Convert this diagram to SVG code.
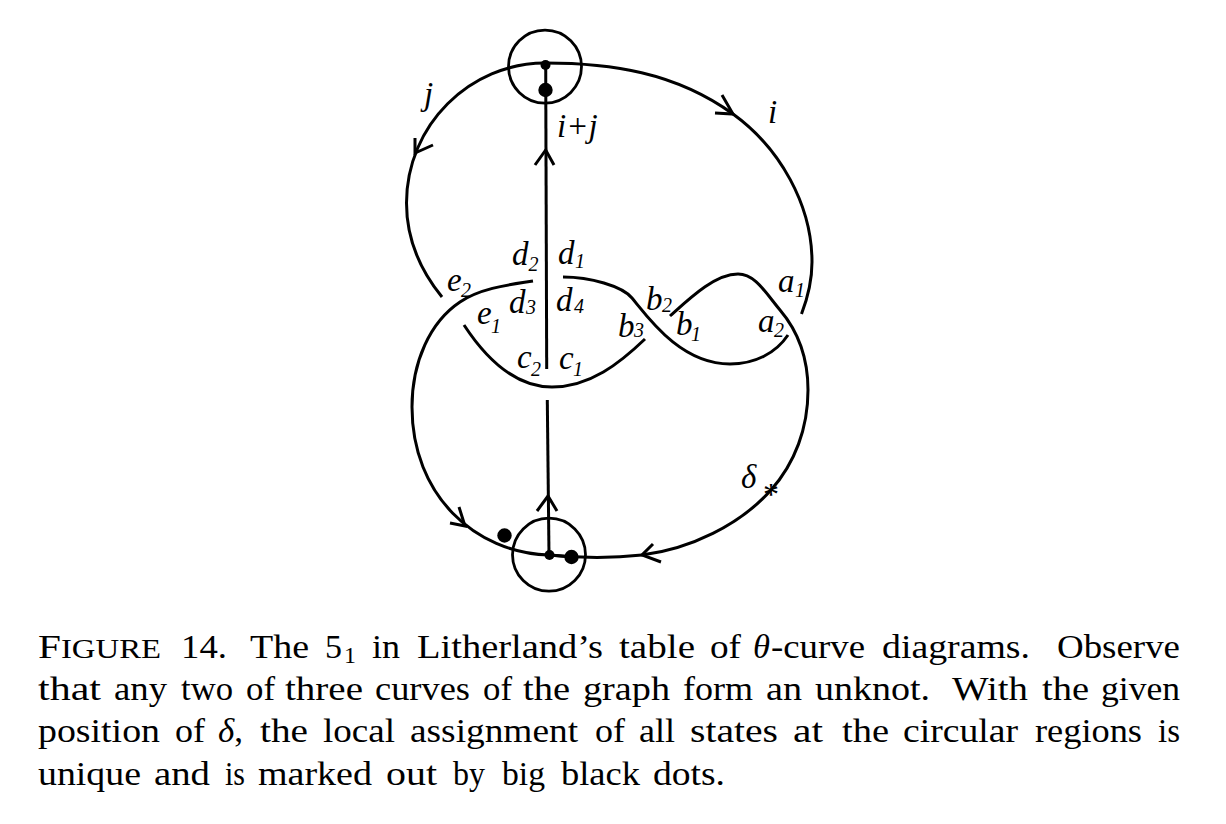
<svg xmlns="http://www.w3.org/2000/svg" width="1226" height="824" viewBox="0 0 1226 824">
<style>
.c{fill:none;stroke:#000;stroke-width:3;stroke-linecap:butt;stroke-linejoin:miter}
.r{fill:none;stroke:#000;stroke-width:2.8}
.d{fill:#000}
.l{font-family:"Liberation Serif",serif;font-style:italic;font-size:33px;fill:#000}
.s{font-family:"Liberation Serif",serif;font-style:italic;font-size:20px;fill:#000}
.t{font-family:"Liberation Serif",serif;font-size:34px;fill:#000}
.i{font-style:italic}
</style>
<rect width="1226" height="824" fill="#fff"/>
<g id="connectors">
<path class="c" d="M545,63 C470,63 406.5,125 406.5,203 C406.5,240 420,270 442,297"/>
<path class="c" d="M545,63 C610,63 675,72 733,114 C780,148 812,205 812,262 C812,280 808,297 801.5,314"/>
<path class="c" d="M533,281 C515,284 482,287 460,302 C430,322 412,362 412,407 C412,495 475,553 549,555 C580,558 615,558 642,555 C690,549 740,525 771,490 C795,463 808,428 808,390 C808,355 797,330 780,310 C765,292 755,274 738,274 C715,274 690,298 670,316"/>
<path class="c" d="M563,277 C590,277 622,286 632,298 C647,316 680,364 730,364 C755,364 776,353 788,335"/>
<path class="c" d="M464,325 C485,357 515,387 552,387 C590,387 620,363 645,339"/>
<path class="c" d="M545.7,65 L546.7,369"/>
<path class="c" d="M547.3,400 L549,555"/>
<path class="c" d="M549,555 L571,557"/>
<path class="c" d="M722,95 L733,114 L715,113"/>
<path class="c" d="M415,138 L415,153 L433,145"/>
<path class="c" d="M535,165 L545.7,150 L554,165"/>
<path class="c" d="M537,511 L548,496 L557,511"/>
<path class="c" d="M459,507 L465,526 L450,523"/>
<path class="c" d="M653,544 L642,555 L661,562"/>
</g>
<g id="node-top">
<circle class="r" cx="545" cy="66.6" r="36.5"/>
<circle class="d" cx="545.5" cy="65" r="5"/>
<circle class="d" cx="545.5" cy="90" r="7.2"/>
</g>
<g id="node-bottom">
<circle class="r" cx="549" cy="554.7" r="36.5"/>
<circle class="d" cx="549.5" cy="555" r="5"/>
<circle class="d" cx="571.5" cy="557" r="7.2"/>
</g>
<g id="node-state-dot">
<circle class="d" cx="504.5" cy="535.5" r="7.2"/>
</g>
<g id="labels">
<text class="l" x="424" y="105">j</text>
<text class="l" x="768" y="123">i</text>
<text class="l" x="557" y="137">i+j</text>
<text class="l" x="512" y="265">d</text><text class="s" x="528.5" y="271">2</text>
<text class="l" x="558" y="264">d</text><text class="s" x="575" y="268">1</text>
<text class="l" x="447" y="291">e</text><text class="s" x="461" y="297">2</text>
<text class="l" x="509" y="313">d</text><text class="s" x="526" y="314">3</text>
<text class="l" x="556" y="311">d</text><text class="s" x="574" y="313">4</text>
<text class="l" x="477" y="324">e</text><text class="s" x="491" y="333">1</text>
<text class="l" x="517" y="368">c</text><text class="s" x="531" y="376">2</text>
<text class="l" x="559" y="369">c</text><text class="s" x="573" y="376">1</text>
<text class="l" x="646" y="310">b</text><text class="s" x="662" y="312">2</text>
<text class="l" x="676" y="335">b</text><text class="s" x="691" y="341">1</text>
<text class="l" x="618" y="337">b</text><text class="s" x="634" y="337">3</text>
<text class="l" x="778" y="292">a</text><text class="s" x="795" y="297">1</text>
<text class="l" x="758" y="332">a</text><text class="s" x="774" y="337">2</text>
<text class="l" x="741" y="488">δ</text>
<text class="l" x="763" y="505" style="font-style:normal;font-size:32px">*</text>
</g>
<g id="caption">
<text class="t" x="38" y="657.5" textLength="123" lengthAdjust="spacingAndGlyphs">F<tspan font-size="27">IGURE</tspan></text>
<text class="t" x="181" y="657.5" textLength="46" lengthAdjust="spacingAndGlyphs">14.</text>
<text class="t" x="250" y="657.5" textLength="59" lengthAdjust="spacingAndGlyphs">The</text>
<text class="t" x="325" y="657.5" textLength="17" lengthAdjust="spacingAndGlyphs">5</text>
<text class="t" x="344" y="663" style="font-size:24px">1</text>
<text class="t" x="372" y="657.5" textLength="28" lengthAdjust="spacingAndGlyphs">in</text>
<text class="t" x="417" y="657.5" textLength="186" lengthAdjust="spacingAndGlyphs">Litherland’s</text>
<text class="t" x="619" y="657.5" textLength="76" lengthAdjust="spacingAndGlyphs">table</text>
<text class="t" x="710" y="657.5" textLength="31" lengthAdjust="spacingAndGlyphs">of</text>
<text class="t i" x="753" y="657.5" textLength="17" lengthAdjust="spacingAndGlyphs">θ</text>
<text class="t" x="771" y="657.5" textLength="94" lengthAdjust="spacingAndGlyphs">-curve</text>
<text class="t" x="882" y="657.5" textLength="148" lengthAdjust="spacingAndGlyphs">diagrams.</text>
<text class="t" x="1057" y="657.5" textLength="123" lengthAdjust="spacingAndGlyphs">Observe</text>

<text class="t" x="38" y="700" textLength="63" lengthAdjust="spacingAndGlyphs">that</text>
<text class="t" x="114" y="700" textLength="53" lengthAdjust="spacingAndGlyphs">any</text>
<text class="t" x="181" y="700" textLength="52" lengthAdjust="spacingAndGlyphs">two</text>
<text class="t" x="246" y="700" textLength="29" lengthAdjust="spacingAndGlyphs">of</text>
<text class="t" x="285" y="700" textLength="78" lengthAdjust="spacingAndGlyphs">three</text>
<text class="t" x="375" y="700" textLength="95" lengthAdjust="spacingAndGlyphs">curves</text>
<text class="t" x="483" y="700" textLength="29" lengthAdjust="spacingAndGlyphs">of</text>
<text class="t" x="523" y="700" textLength="47" lengthAdjust="spacingAndGlyphs">the</text>
<text class="t" x="583" y="700" textLength="87" lengthAdjust="spacingAndGlyphs">graph</text>
<text class="t" x="683" y="700" textLength="70" lengthAdjust="spacingAndGlyphs">form</text>
<text class="t" x="766" y="700" textLength="36" lengthAdjust="spacingAndGlyphs">an</text>
<text class="t" x="815" y="700" textLength="115" lengthAdjust="spacingAndGlyphs">unknot.</text>
<text class="t" x="952" y="700" textLength="76" lengthAdjust="spacingAndGlyphs">With</text>
<text class="t" x="1042" y="700" textLength="47" lengthAdjust="spacingAndGlyphs">the</text>
<text class="t" x="1101" y="700" textLength="79" lengthAdjust="spacingAndGlyphs">given</text>

<text class="t" x="38" y="742.3" textLength="122" lengthAdjust="spacingAndGlyphs">position</text>
<text class="t" x="175" y="742.3" textLength="30" lengthAdjust="spacingAndGlyphs">of</text>
<text class="t" x="218" y="742.3" textLength="25" lengthAdjust="spacingAndGlyphs"><tspan class="i">δ</tspan>,</text>
<text class="t" x="260" y="742.3" textLength="48" lengthAdjust="spacingAndGlyphs">the</text>
<text class="t" x="323" y="742.3" textLength="72" lengthAdjust="spacingAndGlyphs">local</text>
<text class="t" x="410" y="742.3" textLength="168" lengthAdjust="spacingAndGlyphs">assignment</text>
<text class="t" x="595" y="742.3" textLength="30" lengthAdjust="spacingAndGlyphs">of</text>
<text class="t" x="639" y="742.3" textLength="36" lengthAdjust="spacingAndGlyphs">all</text>
<text class="t" x="690" y="742.3" textLength="88" lengthAdjust="spacingAndGlyphs">states</text>
<text class="t" x="793" y="742.3" textLength="30" lengthAdjust="spacingAndGlyphs">at</text>
<text class="t" x="842" y="742.3" textLength="47" lengthAdjust="spacingAndGlyphs">the</text>
<text class="t" x="903" y="742.3" textLength="115" lengthAdjust="spacingAndGlyphs">circular</text>
<text class="t" x="1035" y="742.3" textLength="107" lengthAdjust="spacingAndGlyphs">regions</text>
<text class="t" x="1158" y="742.3" textLength="22" lengthAdjust="spacingAndGlyphs">is</text>

<text class="t" x="38" y="785" textLength="103" lengthAdjust="spacingAndGlyphs">unique</text>
<text class="t" x="154" y="785" textLength="56" lengthAdjust="spacingAndGlyphs">and</text>
<text class="t" x="225" y="785" textLength="20" lengthAdjust="spacingAndGlyphs">is</text>
<text class="t" x="258" y="785" textLength="114" lengthAdjust="spacingAndGlyphs">marked</text>
<text class="t" x="386" y="785" textLength="51" lengthAdjust="spacingAndGlyphs">out</text>
<text class="t" x="453" y="785" textLength="32" lengthAdjust="spacingAndGlyphs">by</text>
<text class="t" x="502" y="785" textLength="43" lengthAdjust="spacingAndGlyphs">big</text>
<text class="t" x="561" y="785" textLength="79" lengthAdjust="spacingAndGlyphs">black</text>
<text class="t" x="653" y="785" textLength="72" lengthAdjust="spacingAndGlyphs">dots.</text>
</g>
</svg>
